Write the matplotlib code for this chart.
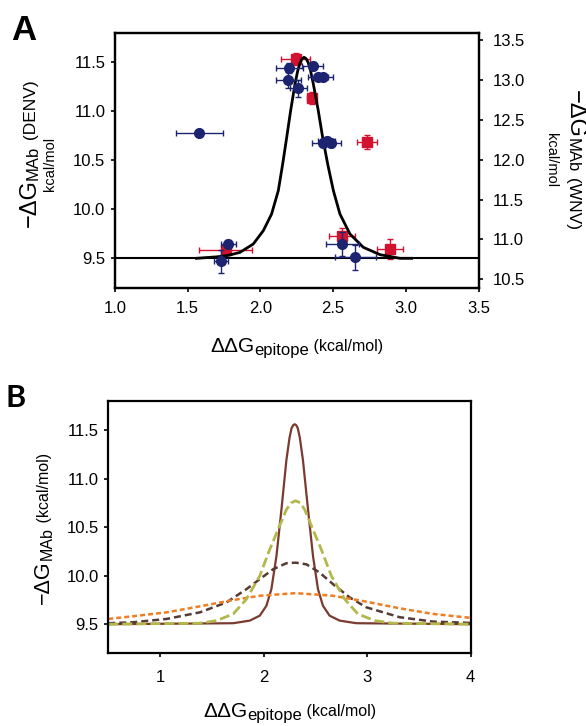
import numpy as np
import matplotlib
matplotlib.use("Agg")
import matplotlib.pyplot as plt
from matplotlib.ticker import FormatStrFormatter
from matplotlib.transforms import IdentityTransform

W, H, DPI = 586, 726, 100

# ---- panel A: DENV (left axis, circles) ----
denv_x = [1.580, 1.779, 1.729, 2.199, 2.192, 2.261, 2.359, 2.398, 2.428, 2.428, 2.456, 2.486, 2.563, 2.651]
denv_y = [10.776, 9.646, 9.469, 11.439, 11.320, 11.235, 11.459, 11.354, 11.354, 10.674, 10.700, 10.674, 9.646, 9.510]
denv_xerr = [0.163, 0.050, 0.045, 0.095, 0.084, 0.057, 0.072, 0.070, 0.070, 0.070, 0.060, 0.070, 0.115, 0.141]
denv_yerr = [0.03, 0.04, 0.115, 0.05, 0.08, 0.085, 0.04, 0.03, 0.03, 0.04, 0.04, 0.04, 0.12, 0.13]

# ---- panel A: WNV (right axis, squares) ----
wnv_x = [2.243, 2.353, 2.731, 2.563, 2.891, 1.763]
wnv_y = [13.262, 12.777, 12.221, 11.043, 10.880, 10.867]
wnv_xerr = [0.100, 0.030, 0.069, 0.088, 0.092, 0.182]
wnv_yerr = [0.07, 0.077, 0.088, 0.10, 0.13, 0.05]

# ---- panel A: fitted curve (left axis units) ----
fit_x = [1.56, 1.70, 1.78, 1.86, 1.951, 2.020, 2.077, 2.123, 2.153, 2.181, 2.208, 2.238, 2.256, 2.272, 2.286,
         2.300, 2.314, 2.328, 2.344, 2.364, 2.398, 2.428, 2.463, 2.502, 2.547, 2.616, 2.708, 2.823, 2.960, 3.04]
fit_y = [9.50, 9.515, 9.53, 9.561, 9.646, 9.782, 9.952, 10.19, 10.46, 10.735, 11.007, 11.279, 11.41, 11.49, 11.535,
         11.551, 11.538, 11.50, 11.42, 11.279, 11.007, 10.735, 10.46, 10.19, 9.952, 9.748, 9.612, 9.537, 9.50, 9.50]

# ---- panel B: model curves ----
solid_x = [0.5, 1.706, 1.867, 1.963, 2.027, 2.075, 2.124, 2.172, 2.220, 2.250, 2.270, 2.286, 2.300, 2.314,
           2.330, 2.350, 2.380, 2.429, 2.477, 2.525, 2.573, 2.637, 2.734, 2.895, 4.0]
solid_y = [9.50, 9.51, 9.537, 9.588, 9.69, 9.861, 10.202, 10.68, 11.19, 11.42, 11.52, 11.552, 11.56, 11.552,
           11.52, 11.42, 11.19, 10.68, 10.202, 9.861, 9.69, 9.588, 9.537, 9.51, 9.50]

green_x = [0.5, 1.385, 1.545, 1.706, 1.834, 1.963, 2.059, 2.139, 2.220, 2.265, 2.310, 2.355, 2.397,
           2.477, 2.557, 2.654, 2.783, 2.911, 3.072, 3.249, 4.0]
green_y = [9.50, 9.51, 9.537, 9.605, 9.758, 9.998, 10.27, 10.475, 10.68, 10.75, 10.772, 10.75, 10.68,
           10.475, 10.27, 9.998, 9.758, 9.605, 9.537, 9.51, 9.50]

dark_x = [0.5, 0.741, 1.063, 1.385, 1.642, 1.834, 1.963, 2.091, 2.220, 2.310, 2.413, 2.541, 2.670,
          2.831, 2.992, 3.313, 3.634, 4.0]
dark_y = [9.51, 9.52, 9.554, 9.622, 9.725, 9.861, 9.964, 10.066, 10.128, 10.134, 10.117, 10.032, 9.913,
          9.776, 9.674, 9.572, 9.527, 9.513]

orange_x = [0.5, 0.741, 1.063, 1.385, 1.706, 1.963, 2.310, 2.670, 2.992, 3.313, 3.634, 4.0]
orange_y = [9.554, 9.582, 9.622, 9.684, 9.749, 9.793, 9.82, 9.793, 9.732, 9.664, 9.606, 9.565]

BLUE = "#1c2470"
RED = "#d2122e"

plt.rcParams["font.family"] = ["Liberation Sans", "DejaVu Sans"]
plt.rcParams["axes.linewidth"] = 1.6


def style_ticks(ax, pad_x=5, pad_y=4):
    ax.tick_params(direction="out", length=3, width=1.2, labelsize=12)
    ax.tick_params(axis="x", pad=pad_x)
    ax.tick_params(axis="y", pad=pad_y)


def composite_label(fig, pieces, x, y, rotation=0):
    # pieces: (text, fontsize, baseline shift in pt); (x, y) = centre of the baseline in image pixels
    r = fig.canvas.get_renderer()
    adv = {0: (1, 0), 90: (0, 1), 270: (0, -1)}[rotation]
    up = {0: (0, 1), 90: (-1, 0), 270: (1, 0)}[rotation]
    items = []
    for s, size, shift in pieces:
        t = fig.text(0, 0, s, fontsize=size, rotation=rotation, rotation_mode="anchor",
                     ha="left", va="baseline", transform=IdentityTransform())
        bb = t.get_window_extent(r)
        items.append((t, bb.width if rotation == 0 else bb.height, shift))
    total = sum(i[1] for i in items)
    x0 = x - adv[0] * total / 2
    y0 = (H - y) - adv[1] * total / 2
    pos = 0
    for t, length, shift in items:
        s_px = shift * DPI / 72
        t.set_position((x0 + adv[0] * pos + up[0] * s_px, y0 + adv[1] * pos + up[1] * s_px))
        pos += length


fig = plt.figure(figsize=(W / DPI, H / DPI), dpi=DPI)

# ---------- panel A ----------
axA = fig.add_axes([115 / W, 1 - 288.3 / H, 363.5 / W, 255 / H])
axR = axA.twinx()
axA.set_zorder(2)
axA.patch.set_visible(False)
axR.set_zorder(1)

axA.axhline(9.5, color="black", lw=1.5, zorder=1)
axA.plot(fit_x, fit_y, color="black", lw=2, zorder=2)
axR.errorbar(wnv_x, wnv_y, xerr=wnv_xerr, yerr=wnv_yerr, fmt="s", color=RED, ms=6.5,
             elinewidth=1, capsize=2.5, capthick=1)
axA.errorbar(denv_x, denv_y, xerr=denv_xerr, yerr=denv_yerr, fmt="o", color=BLUE, ms=7,
             elinewidth=1, capsize=2.5, capthick=1, zorder=3)

axA.set_xlim(1.0, 3.5)
axA.set_ylim(9.194, 11.796)
axR.set_ylim(10.387, 13.584)
axA.set_xticks(np.arange(1.0, 3.51, 0.5))
axA.set_yticks(np.arange(9.5, 11.51, 0.5))
axR.set_yticks(np.arange(10.5, 13.51, 0.5))
for a in (axA, axR):
    a.xaxis.set_major_formatter(FormatStrFormatter("%.1f"))
    a.yaxis.set_major_formatter(FormatStrFormatter("%.1f"))
style_ticks(axA, pad_x=6, pad_y=4)
style_ticks(axR, pad_y=7)

# ---------- panel B ----------
axB = fig.add_axes([108.3 / W, 1 - 653.3 / H, 362.4 / W, 252.3 / H])
axB.plot(solid_x, solid_y, color="#7b3a2f", lw=1.6)
axB.plot(dark_x, dark_y, color="#563a35", lw=1.8, linestyle=(0, (2.8, 1.6)))
axB.plot(orange_x, orange_y, color="#ef7d22", lw=1.8, linestyle=(0, (2.0, 1.2)))
axB.plot(green_x, green_y, color="#b2b84a", lw=2.0, linestyle=(0, (3.6, 1.45)))
axB.set_xlim(0.5, 4.0)
axB.set_ylim(9.2, 11.8)
axB.set_xticks([1, 2, 3, 4])
axB.set_yticks(np.arange(9.5, 11.51, 0.5))
axB.yaxis.set_major_formatter(FormatStrFormatter("%.1f"))
style_ticks(axB, pad_x=9, pad_y=4)

# ---------- labels ----------
composite_label(fig, [("\u2212\u0394G", 17, 0), ("MAb", 12, -1.2), (" (DENV)", 12.5, 0)], 36, 154, rotation=90)
composite_label(fig, [("kcal/mol", 10.5, 0)], 54, 163.5, rotation=90)
composite_label(fig, [("\u2212\u0394G", 17, 0), ("MAb", 12, -1.2), (" (WNV)", 12.5, 0)], 569, 159.5, rotation=270)
composite_label(fig, [("kcal/mol", 10.5, 0)], 547, 160, rotation=270)
composite_label(fig, [("\u0394\u0394G", 15, 0), ("epitope", 12, -2.5), (" (kcal/mol)", 11.5, 0.5)], 297, 351.7)

composite_label(fig, [("\u0394\u0394G", 15, 0), ("epitope", 12, -2.5), (" (kcal/mol)", 11.5, 0.5)], 289.5, 716.7)
composite_label(fig, [("\u2212\u0394G", 15.5, 0), ("MAb", 11.5, -2), (" (kcal/mol)", 11.5, 0)], 48.5, 528.5, rotation=90)

fig.text(11 / W, 1 - 40 / H, "A", fontsize=25, fontweight="bold", ha="left", va="baseline")
fig.text(6 / W, 1 - 407 / H, "B", fontsize=22, fontweight="bold", family=["Lato", "DejaVu Sans"],
         ha="left", va="baseline")

fig.savefig("out.png", dpi=DPI)
